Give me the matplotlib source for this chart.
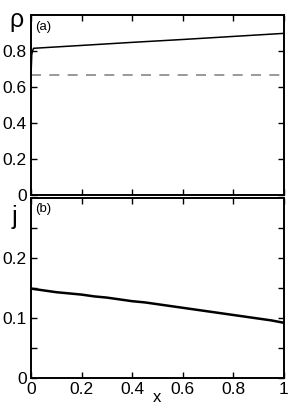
import matplotlib
matplotlib.use("Agg")
import matplotlib.pyplot as plt

plt.rcParams['font.family'] = ['Liberation Sans', 'DejaVu Sans']

# Data
rho_x = [0.0, 0.003, 0.006, 0.01, 0.2, 0.4, 0.6, 0.8, 1.0]
rho_y = [0.66, 0.78, 0.80, 0.815, 0.831, 0.848, 0.864, 0.881, 0.898]
rho_ref = 2.0 / 3.0

j_x = [0.0, 0.05, 0.1, 0.15, 0.2, 0.25, 0.3, 0.35, 0.4, 0.45, 0.5,
       0.55, 0.6, 0.65, 0.7, 0.75, 0.8, 0.85, 0.9, 0.95, 1.0]
j_y = [0.149, 0.146, 0.143, 0.141, 0.139, 0.136, 0.134, 0.131, 0.128, 0.126, 0.123,
       0.120, 0.117, 0.114, 0.111, 0.108, 0.105, 0.102, 0.099, 0.096, 0.092]

x_ticks = [0, 0.2, 0.4, 0.6, 0.8, 1]
x_ticklabels = ['0', '0.2', '0.4', '0.6', '0.8', '1']
rho_ticks = [0, 0.2, 0.4, 0.6, 0.8]
rho_ticklabels = ['0', '0.2', '0.4', '0.6', '0.8']
j_ticks = [0, 0.05, 0.1, 0.15, 0.2, 0.25]
j_ticklabels = ['0', '', '0.1', '', '0.2', '']

fig = plt.figure(figsize=(2.91, 4.07), dpi=100)
L, R = 31 / 291, 284 / 291
W = R - L
ax1 = fig.add_axes([L, 1 - 195 / 407, W, 180 / 407])
ax2 = fig.add_axes([L, 1 - 378 / 407, W, 180 / 407])

for ax in (ax1, ax2):
    ax.set_xlim(0, 1)
    ax.set_xticks(x_ticks)
    ax.tick_params(direction='in', top=True, right=True, length=4, width=1,
                   labelsize=12.5, pad=3)
    for s in ax.spines.values():
        s.set_linewidth(1.4)

ax1.plot(rho_x, rho_y, color='black', lw=1.1)
ax1.axhline(rho_ref, color='#888888', lw=1.2, dashes=(6, 5))
ax1.set_ylim(0, 1)
ax1.set_yticks(rho_ticks)
ax1.set_yticklabels(rho_ticklabels)
ax1.set_xticklabels([])
fig.text(35 / 291, 1 - 27 / 407, '(a)', fontsize=9.5, va='center', ha='left')
fig.text(16 / 291, 1 - 20 / 407, 'ρ', fontsize=18, ha='center', va='center')

ax2.plot(j_x, j_y, color='black', lw=1.8)
ax2.set_ylim(0, 0.3)
ax2.set_yticks(j_ticks)
ax2.set_yticklabels(j_ticklabels)
ax2.set_xticklabels(x_ticklabels)
fig.text(35 / 291, 1 - 209 / 407, '(b)', fontsize=9.5, va='center', ha='left')
fig.text(14 / 291, 1 - 217 / 407, 'j', fontsize=18, ha='center', va='center')
fig.text(157 / 291, 2 / 407, 'x', fontsize=12, ha='center', va='bottom')

fig.savefig('out.png', dpi=100)
